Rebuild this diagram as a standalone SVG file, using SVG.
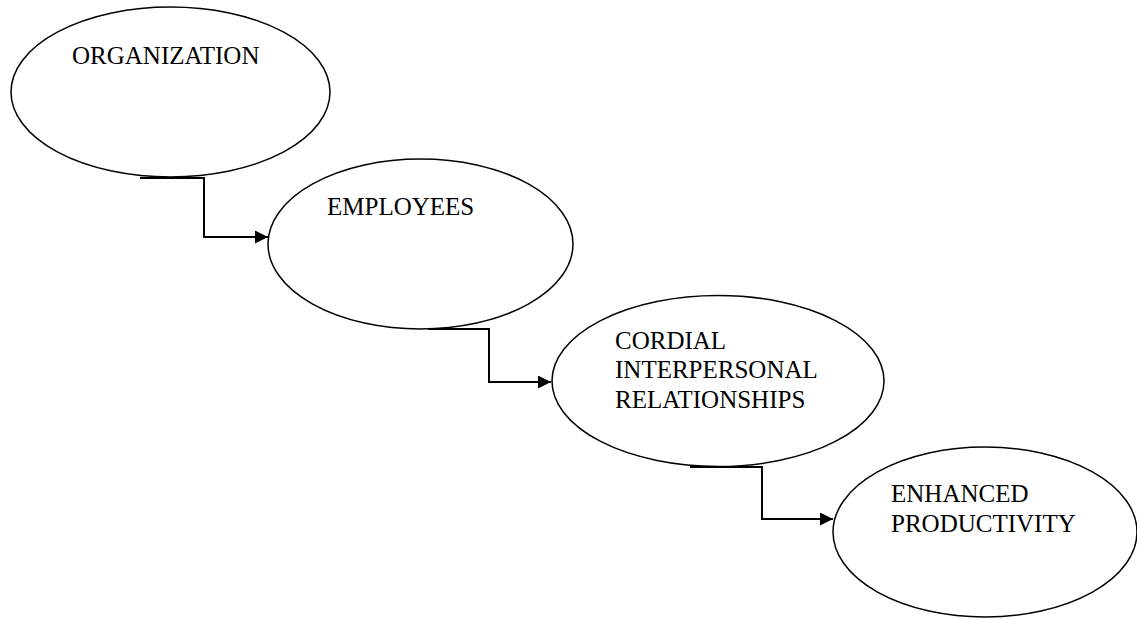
<svg xmlns="http://www.w3.org/2000/svg" width="1137" height="619" viewBox="0 0 1137 619">
<defs>
<style>
.node ellipse{fill:#fff;stroke:#000;stroke-width:1.5}
.node text{font-family:'Liberation Serif','Times New Roman',Tinos,'DejaVu Serif',serif;font-size:25px;fill:#000}
.conn path{fill:none;stroke:#000;stroke-width:2}
</style>
<marker id="arr" viewBox="0 0 13 13" refX="13" refY="6.5" markerWidth="13" markerHeight="13" markerUnits="userSpaceOnUse" orient="auto">
<path d="M0,0 L13,6.5 L0,13 Z" fill="#000"/>
</marker>
</defs>
<rect width="1137" height="619" fill="#fff"/>
<g id="n1" class="node">
<ellipse cx="170.5" cy="92" rx="159.5" ry="85"/>
<text x="72" y="64" font-family="Liberation Serif, serif">ORGANIZATION</text>
</g>
<g id="n2" class="node">
<ellipse cx="420.5" cy="244" rx="152.5" ry="85"/>
<text x="327" y="215" font-family="Liberation Serif, serif">EMPLOYEES</text>
</g>
<g id="n3" class="node">
<ellipse cx="718" cy="381" rx="166" ry="85.5"/>
<text x="615" y="349" font-family="Liberation Serif, serif">CORDIAL</text>
<text x="615" y="378" font-family="Liberation Serif, serif">INTERPERSONAL</text>
<text x="615" y="408" font-family="Liberation Serif, serif">RELATIONSHIPS</text>
</g>
<g id="n4" class="node">
<ellipse cx="985" cy="532" rx="152" ry="85"/>
<text x="891" y="502" font-family="Liberation Serif, serif">ENHANCED</text>
<text x="891" y="532" font-family="Liberation Serif, serif">PRODUCTIVITY</text>
</g>
<g id="connectors" class="conn">
<path d="M140,178 H204 V237 H268" marker-end="url(#arr)"/>
<path d="M428,329 H489 V382 H551" marker-end="url(#arr)"/>
<path d="M690,467 H762 V519 H833" marker-end="url(#arr)"/>
</g>
</svg>
